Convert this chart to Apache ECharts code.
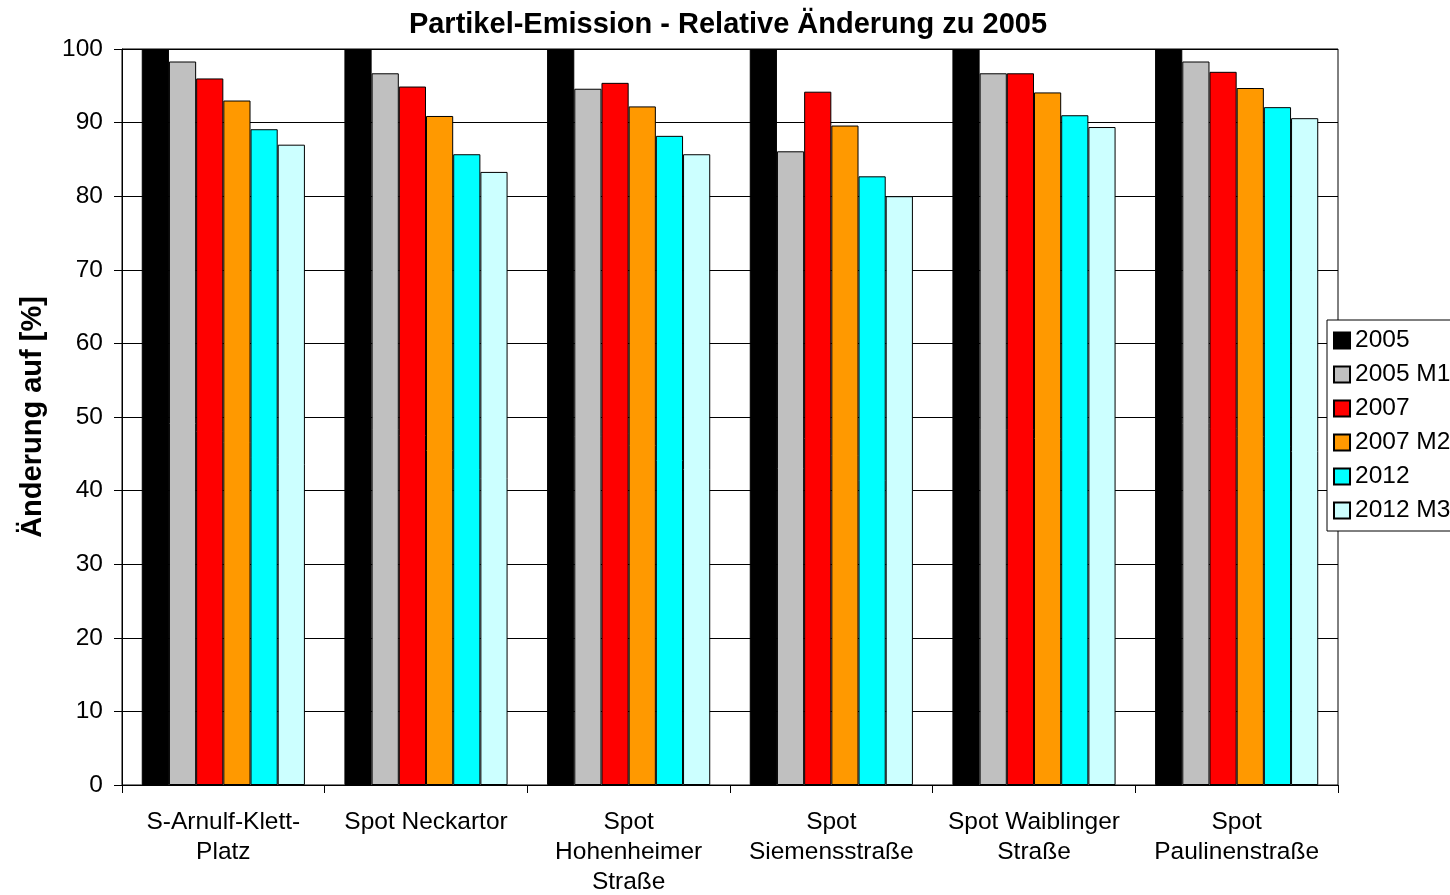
<!DOCTYPE html>
<html>
<head>
<meta charset="utf-8">
<script src="https://cdn.jsdelivr.net/npm/echarts@6/dist/echarts.min.js"></script>
<style>
  html, body { margin: 0; padding: 0; background: #fff; }
  #chart { width: 1450px; height: 895px; }
</style>
</head>
<body>
<div id="chart"></div>
<script>
// Measuring sites (x-axis categories)
const categories = [
  'S-Arnulf-Klett-\nPlatz',
  'Spot Neckartor',
  'Spot\nHohenheimer\nStraße',
  'Spot\nSiemensstraße',
  'Spot Waiblinger\nStraße',
  'Spot\nPaulinenstraße'
];

// Series names and values (relative change to 2005, in %)
const seriesNames = ['2005', '2005 M1', '2007', '2007 M2', '2012', '2012 M3'];
const s2005   = [100, 100, 100, 100, 100, 100];
const s2005M1 = [98.3, 96.7, 94.6, 86.1, 96.7, 98.3];
const s2007   = [96.0, 94.9, 95.4, 94.2, 96.7, 96.9];
const s2007M2 = [93.0, 90.9, 92.2, 89.6, 94.1, 94.7];
const s2012   = [89.1, 85.7, 88.2, 82.7, 91.0, 92.1];
const s2012M3 = [87.0, 83.3, 85.7, 80.0, 89.4, 90.6];

// Y-axis ticks
const yTicks = [0, 10, 20, 30, 40, 50, 60, 70, 80, 90, 100];

const seriesData = [s2005, s2005M1, s2007, s2007M2, s2012, s2012M3];
const colors = ['#000000', '#c0c0c0', '#ff0000', '#ff9900', '#00ffff', '#ccffff'];

const font = "'Liberation Sans', Arial, sans-serif";
const labelSize = 24.5;
const boldSize = 29;

const chart = echarts.init(document.getElementById('chart'));

chart.setOption({
  animation: false,
  backgroundColor: '#ffffff',
  title: {
    text: 'Partikel-Emission - Relative Änderung zu 2005',
    left: 723,
    textAlign: 'center',
    top: 5,
    textStyle: { fontFamily: font, fontSize: boldSize, fontWeight: 'bold', color: '#000' }
  },
  legend: {
    orient: 'vertical',
    left: 1327,
    top: 320,
    padding: [8, 10, 8, 6],
    backgroundColor: '#fff',
    borderColor: '#000',
    borderWidth: 1,
    itemWidth: 16,
    itemHeight: 16,
    itemGap: 9,
    icon: 'rect',
    textStyle: { fontFamily: font, fontSize: labelSize, color: '#000', lineHeight: 24 },
    data: seriesNames
  },
  grid: {
    left: 122,
    right: 112,
    top: 49,
    bottom: 110,
    outerBoundsMode: 'none',
    containLabel: false,
    show: true,
    borderColor: '#000',
    borderWidth: 1,
    backgroundColor: '#fff'
  },
  xAxis: {
    type: 'category',
    data: categories,
    axisLine: { lineStyle: { color: '#000', width: 1 } },
    axisTick: { show: true, length: 8, lineStyle: { color: '#000' } },
    axisLabel: {
      interval: 0,
      fontFamily: font,
      fontSize: labelSize,
      lineHeight: 30,
      color: '#000',
      margin: 22
    }
  },
  yAxis: {
    type: 'value',
    min: yTicks[0],
    max: yTicks[yTicks.length - 1],
    interval: 10,
    name: 'Änderung auf [%]',
    nameLocation: 'middle',
    nameGap: 75,
    nameTextStyle: { fontFamily: font, fontSize: boldSize, fontWeight: 'bold', color: '#000' },
    axisLine: { show: true, lineStyle: { color: '#000', width: 1 } },
    axisTick: { show: true, length: 8, lineStyle: { color: '#000' } },
    axisLabel: { fontFamily: font, fontSize: labelSize, color: '#000', margin: 19 },
    splitLine: { show: true, lineStyle: { color: '#000', width: 1 } }
  },
  series: seriesNames.map((name, i) => ({
    name: name,
    type: 'bar',
    data: seriesData[i],
    barGap: '0%',
    barCategoryGap: '19.5%',
    itemStyle: { color: colors[i], borderColor: '#000', borderWidth: 1 }
  }))
});
</script>
</body>
</html>
